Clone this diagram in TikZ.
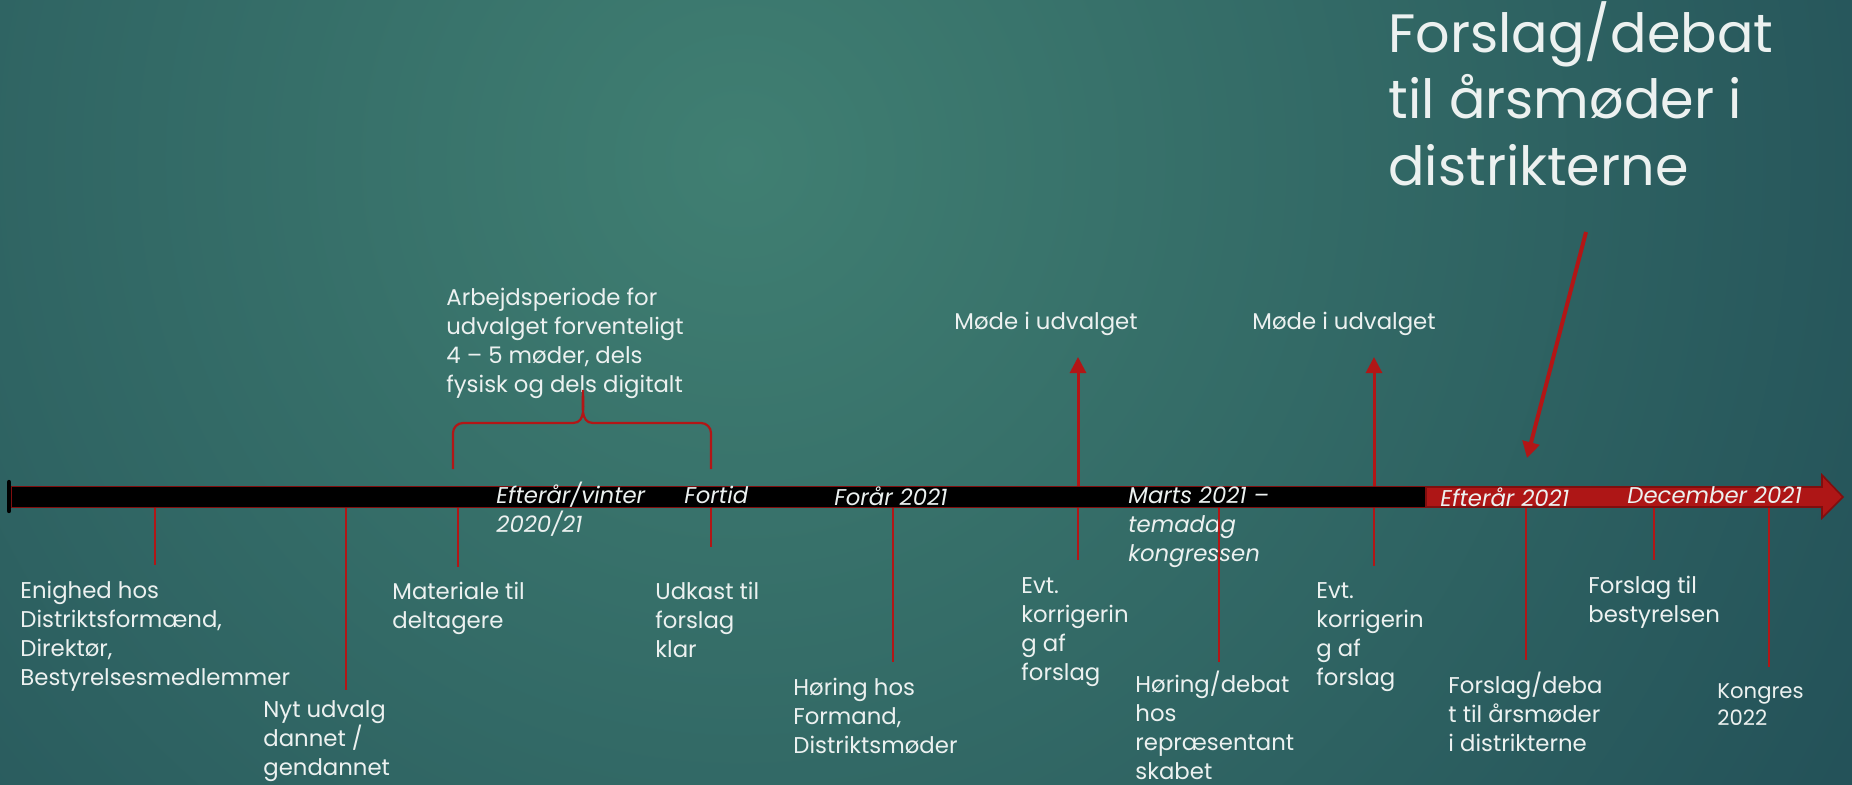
\documentclass[tikz,border=0pt]{standalone}
\usepackage{fontspec}
\setmainfont{Poppins}
\usepackage{tikz}
\usetikzlibrary{arrows.meta,positioning}
\definecolor{bginner}{RGB}{64,127,114}
\definecolor{bgouter}{RGB}{17,52,72}
\definecolor{tickred}{RGB}{178,22,22}
\definecolor{arrowred}{RGB}{174,22,22}
\definecolor{arrowedge}{RGB}{128,14,14}
\definecolor{textwhite}{RGB}{236,241,240}
\tikzset{textlabel/.style = {anchor=base west, align=left, inner sep=0pt, text=textwhite, font=\fontsize{11.4}{14.4}\selectfont}}
\tikzset{barlabel/.style = {textlabel, font=\fontsize{11.4}{14.4}\selectfont\itshape}}
\tikzset{headline/.style = {textlabel, font=\fontsize{27}{33.2}\selectfont}}
\tikzset{tick/.style = {tickred, line width=1.1pt}}
\tikzset{uparrow/.style = {tickred, line width=1.5pt, -{Triangle[length=8pt,width=8pt]}}}
\tikzset{bigarrow/.style = {tickred, line width=2pt, -{Triangle[length=8pt,width=8.5pt]}}}
\tikzset{klamme/.style = {tickred, line width=1.1pt}}

\begin{document}
\begin{tikzpicture}[x=0.5pt,y=-0.5pt]
% baggrund
\useasboundingbox (0,0) rectangle (1852,784);
\fill[bgouter] (0,0) rectangle (1852,784);
\begin{scope}
\clip (0,0) rectangle (1852,784);
\shade[inner color=bginner, outer color=bgouter] (740,160) circle (2100);
\end{scope}

% tidslinje (tekstnoder sidder paa sidste linjes grundlinje)
\node [fill=black, draw=arrowedge, line width=0.5pt, minimum width=707.5pt, minimum height=10.5pt, inner sep=0pt] (bar) at (718.5,496.5) {};
\draw [line width=2.2pt, line cap=round] (9,482) -- (9,511);
\fill [arrowred, draw=arrowedge, line width=0.8pt] (1426,487) -- (1822,487) -- (1822,475) -- (1843,497) -- (1822,518) -- (1822,507) -- (1426,507) -- cycle;

\node [barlabel] (efv) at (496,532) {Efterår/vinter\\2020/21};
\node [barlabel] (fortid) at (684,503) {Fortid};
\node [barlabel] (foraar) at (834,505) {Forår 2021};
\node [barlabel] (marts) at (1128,561) {Marts 2021 –\\temadag\\kongressen};
\node [barlabel] (efteraar) at (1440,506) {Efterår 2021};
\node [barlabel] (dec) at (1627,503) {December 2021};

% punkter under linjen
\coordinate (enig) at (155,565);
\coordinate (nyt) at (346,690);
\coordinate (mat) at (458,567);
\coordinate (udk) at (711,547);
\coordinate (hoer) at (893,662);
\coordinate (evta) at (1078,560);
\coordinate (hoerdeb) at (1219,662);
\coordinate (evtb) at (1374,566);
\coordinate (fdeb) at (1526,660);
\coordinate (fbest) at (1654,560);
\coordinate (kong) at (1769,667);
\foreach \n in {enig,nyt,mat,udk,hoer,evta,hoerdeb,evtb,fdeb,fbest,kong}
  \draw [tick] (\n |- bar.south) -- (\n);

\node [textlabel] (enigtxt) at (20,685) {Enighed hos\\Distriktsformænd,\\Direktør,\\Bestyrelsesmedlemmer};
\node [textlabel] (nyttxt) at (263,775) {Nyt udvalg\\dannet /\\gendannet};
\node [textlabel] (mattxt) at (392,628) {Materiale til\\deltagere};
\node [textlabel] (udktxt) at (655,657) {Udkast til\\forslag\\klar};
\node [textlabel] (hoertxt) at (793,753) {Høring hos\\Formand,\\Distriktsmøder};
\node [textlabel] (evtatxt) at (1021,680) {Evt.\\korrigerin\\g af\\forslag};
\node [textlabel] (hoerdebtxt) at (1135,779) {Høring/debat\\hos\\repræsentant\\skabet};
\node [textlabel] (evtbtxt) at (1316,685) {Evt.\\korrigerin\\g af\\forslag};
\node [textlabel] (fdebtxt) at (1448,751) {Forslag/deba\\t til årsmøder\\i distrikterne};
\node [textlabel] (fbesttxt) at (1588,622) {Forslag til\\bestyrelsen};
\node [textlabel, font=\fontsize{10.6}{13.5}\selectfont] (kongtxt) at (1717,725) {Kongres\\2022};

% over linjen
\node [textlabel] (arbejd) at (446,392) {Arbejdsperiode for\\udvalget forventeligt\\4 – 5 møder, dels\\fysisk og dels digitalt};
\draw [klamme] (453,469) -- (453,433) to[out=90,in=180] (463,423) -- (573,423) to[out=0,in=270] (583,390)
  to[out=270,in=180] (593,423) -- (701,423) to[out=0,in=90] (711,433) -- (711,469);

\node [textlabel] (modea) at (954,329) {Møde i udvalget};
\node [textlabel] (modeb) at (1252,329) {Møde i udvalget};
\coordinate (modeatip) at (1078,357);
\coordinate (modebtip) at (1374,357);
\draw [uparrow] (modeatip |- bar.north) -- (modeatip);
\draw [uparrow] (modebtip |- bar.north) -- (modebtip);

\node [headline] (titel) at (1388,185) {Forslag/debat\\til årsmøder i\\distrikterne};
\coordinate (pilstart) at (1586,232);
\coordinate (pilslut) at (1527,458);
\draw [bigarrow] (pilstart) -- (pilslut);
\end{tikzpicture}
\end{document}
